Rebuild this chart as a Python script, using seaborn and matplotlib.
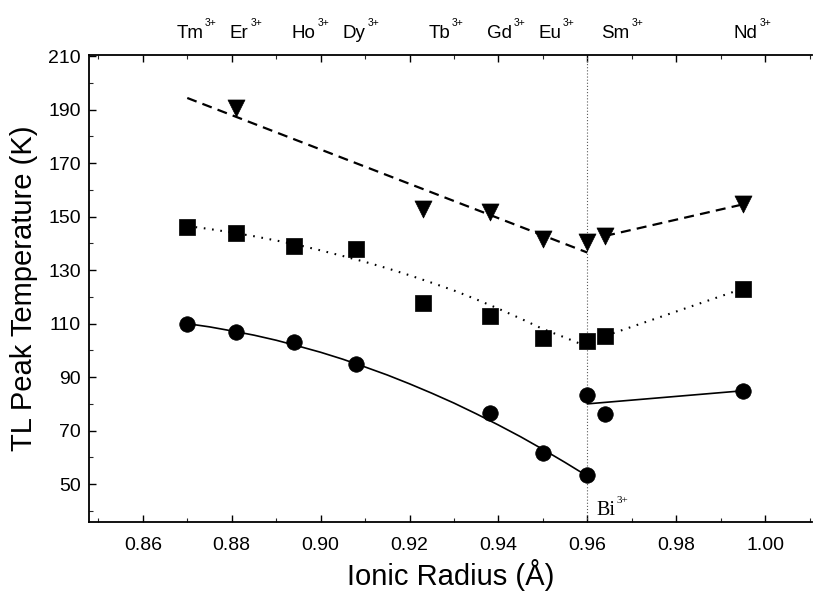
import matplotlib
matplotlib.use("Agg")
import matplotlib.pyplot as plt
import matplotlib.transforms as mtransforms
from matplotlib.ticker import MultipleLocator
import seaborn as sns

# ---------------- data ----------------
ions = ["Tm", "Er", "Ho", "Dy", "Tb", "Gd", "Eu", "Sm", "Nd"]
ion_label_x = [0.8675, 0.8796, 0.8935, 0.9050, 0.9243, 0.9374, 0.9490, 0.9632, 0.9930]

circle_x = [0.870, 0.881, 0.894, 0.908, 0.938, 0.950, 0.960, 0.960, 0.964, 0.995]
circle_y = [110.0, 106.9, 103.0, 94.8, 76.5, 61.6, 53.4, 83.3, 76.4, 84.9]

square_x = [0.870, 0.881, 0.894, 0.908, 0.923, 0.938, 0.950, 0.960, 0.964, 0.995]
square_y = [146.2, 143.9, 139.1, 137.9, 117.8, 112.7, 104.7, 103.5, 105.4, 123.1]

tri_x = [0.881, 0.923, 0.938, 0.950, 0.960, 0.964, 0.995]
tri_y = [190.6, 152.8, 151.8, 141.6, 140.6, 142.8, 154.6]

# fitted guide lines
solid_x = [0.870, 0.875, 0.880, 0.885, 0.890, 0.895, 0.900, 0.905, 0.910, 0.915,
           0.920, 0.925, 0.930, 0.935, 0.940, 0.945, 0.950, 0.955, 0.960]
solid_y = [110.0, 108.8, 107.3, 105.7, 103.8, 101.6, 99.3, 96.7, 93.8, 90.8,
           87.5, 84.0, 80.3, 76.3, 72.1, 67.7, 63.0, 58.1, 53.0]
solid2_x = [0.960, 0.995]
solid2_y = [80.0, 84.9]

dot_x = [0.870, 0.875, 0.880, 0.885, 0.890, 0.895, 0.900, 0.905, 0.910, 0.915,
         0.920, 0.925, 0.930, 0.935, 0.940, 0.945, 0.950, 0.955, 0.960]
dot_y = [146.5, 145.4, 144.1, 142.7, 141.1, 139.4, 137.4, 135.3, 133.1, 130.7,
         128.1, 125.3, 122.4, 119.1, 115.6, 111.9, 108.0, 104.8, 101.4]
dot2_x = [0.964, 0.995]
dot2_y = [105.4, 123.1]

dash_x = [0.870, 0.960]
dash_y = [194.4, 136.6]
dash2_x = [0.964, 0.995]
dash2_y = [142.8, 154.6]

bi_x = 0.960

x_ticks = [0.86, 0.88, 0.90, 0.92, 0.94, 0.96, 0.98, 1.00]
y_ticks = [50, 70, 90, 110, 130, 150, 170, 190, 210]

# ---------------- style ----------------
sns.set_theme(style="ticks")
plt.rcParams["font.family"] = ["Liberation Sans", "DejaVu Sans"]

fig = plt.figure(figsize=(8.13, 5.94), dpi=100)
ax = fig.add_axes([0.1095, 0.122, 0.889, 0.786])

# vertical Bi reference line
ax.axvline(bi_x, color="0.35", lw=0.8, linestyle=(0, (1, 1.8)), zorder=1)

# guide lines
line_kw = dict(ax=ax, color="black", sort=False, estimator=None)
sns.lineplot(x=solid_x, y=solid_y, lw=1.2, **line_kw)
sns.lineplot(x=solid2_x, y=solid2_y, lw=1.2, **line_kw)
sns.lineplot(x=dot_x, y=dot_y, lw=1.5, linestyle=(0, (0.8, 3.2)), **line_kw)
sns.lineplot(x=dot2_x, y=dot2_y, lw=1.5, linestyle=(0, (0.8, 3.2)), **line_kw)
sns.lineplot(x=dash_x, y=dash_y, lw=1.6, linestyle=(0, (4.5, 2.8)), **line_kw)
sns.lineplot(x=dash2_x, y=dash2_y, lw=1.6, linestyle=(0, (4.5, 2.8)), **line_kw)

# markers
sns.scatterplot(x=circle_x, y=circle_y, ax=ax, marker="o", s=125, color="black",
                edgecolor="black", linewidth=0.5, zorder=5)
sns.scatterplot(x=square_x, y=square_y, ax=ax, marker="s", s=120, color="black",
                edgecolor="black", linewidth=0.5, zorder=5)
sns.scatterplot(x=tri_x, y=tri_y, ax=ax, marker="v", s=150, color="black",
                edgecolor="black", linewidth=0.5, zorder=5)

# axes
ax.set_xlim(0.8479, 1.0105)
ax.set_ylim(36, 210.6)
ax.set_xticks(x_ticks)
ax.set_xticklabels([f"{v:.2f}" for v in x_ticks])
ax.set_yticks(y_ticks)
ax.xaxis.set_minor_locator(MultipleLocator(0.01))
ax.yaxis.set_minor_locator(MultipleLocator(10))
ax.tick_params(axis="both", which="major", direction="in", length=5, width=1.0,
               labelsize=14, colors="black")
ax.tick_params(axis="both", which="minor", direction="in", length=3, width=0.8)
ax.tick_params(axis="x", which="both", top=True, bottom=True, pad=11)
ax.tick_params(axis="y", which="both", left=True, right=False, pad=6)
for side in ["left", "bottom", "top"]:
    ax.spines[side].set_visible(True)
    ax.spines[side].set_linewidth(1.3)
    ax.spines[side].set_color("black")
ax.spines["right"].set_visible(False)

ax.set_xlabel("Ionic Radius (Å)", fontsize=21, labelpad=4, color="black")
ax.set_ylabel("TL Peak Temperature (K)", fontsize=21, labelpad=7, color="black")

# top ion labels
trans = mtransforms.blended_transform_factory(ax.transData, ax.transAxes)
for name, lx in zip(ions, ion_label_x):
    t = ax.text(lx, 1.035, name, transform=trans, ha="left", va="baseline",
                fontsize=13.5, color="black", clip_on=False)
    ax.annotate("3+", xy=(1.0, 0.86), xycoords=t, xytext=(1.2, 0),
                textcoords="offset points", ha="left", va="bottom",
                fontsize=7.5, color="black", annotation_clip=False)

# Bi3+ label
tb = ax.text(bi_x + 0.0021, 38.4, "Bi", ha="left", va="baseline", fontsize=14.5,
             family=["Liberation Serif", "DejaVu Serif"], color="black")
ax.annotate("3+", xy=(1.0, 0.82), xycoords=tb, xytext=(0.5, 0),
            textcoords="offset points", ha="left", va="bottom", fontsize=8,
            family=["Liberation Serif", "DejaVu Serif"], color="black",
            annotation_clip=False)

fig.savefig("out.png", dpi=100)
